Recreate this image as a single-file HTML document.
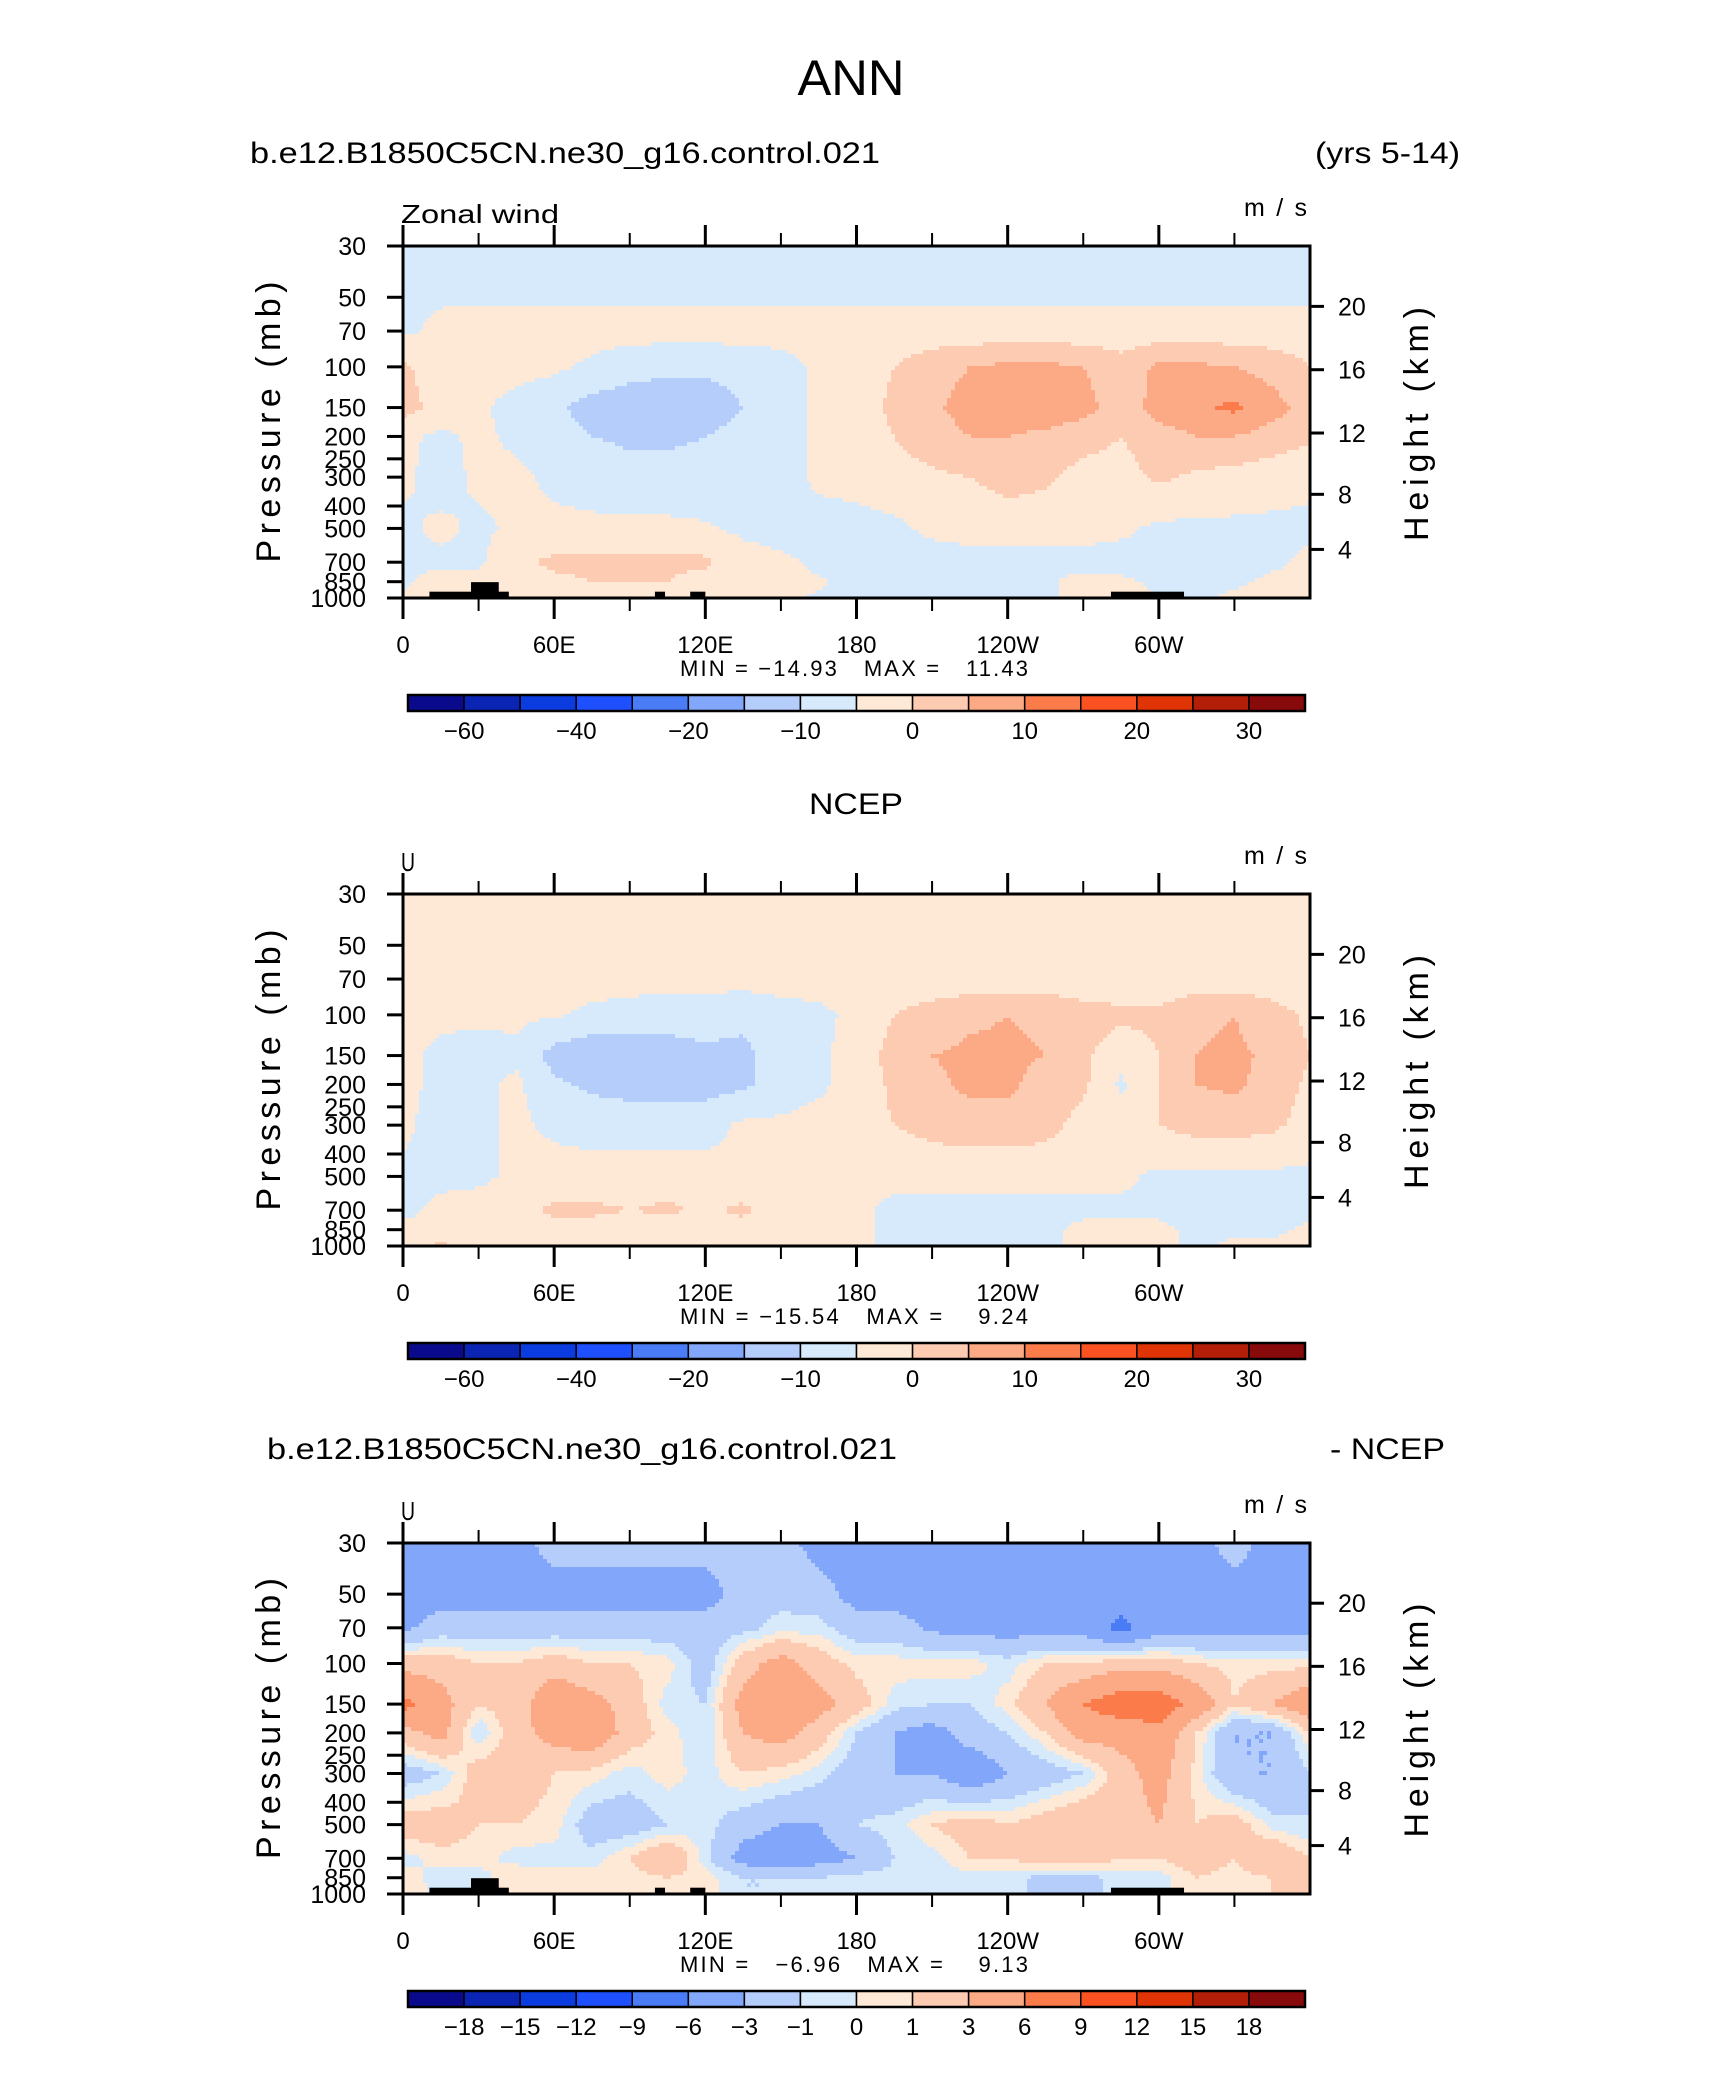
<!DOCTYPE html>
<html><head><meta charset="utf-8">
<style>
html,body{margin:0;padding:0;background:#fff;}
svg{display:block;}
text{font-family:"Liberation Sans",sans-serif;fill:#000;}
</style></head>
<body>
<svg id="fig" width="1710" height="2074" viewBox="0 0 1710 2074" xmlns="http://www.w3.org/2000/svg">
<rect width="1710" height="2074" fill="#fff"/>
<text x="851" y="95" font-size="50" text-anchor="middle" textLength="107" lengthAdjust="spacingAndGlyphs">ANN</text>
<text x="250" y="163" font-size="30" textLength="630" lengthAdjust="spacingAndGlyphs">b.e12.B1850C5CN.ne30_g16.control.021</text>
<text x="1460" y="163" font-size="30" text-anchor="end" textLength="145" lengthAdjust="spacingAndGlyphs">(yrs 5-14)</text>
<text x="856" y="814" font-size="30" text-anchor="middle" textLength="94" lengthAdjust="spacingAndGlyphs">NCEP</text>
<text x="267" y="1459" font-size="30" textLength="630" lengthAdjust="spacingAndGlyphs">b.e12.B1850C5CN.ne30_g16.control.021</text>
<text x="1445" y="1459" font-size="30" text-anchor="end" textLength="115" lengthAdjust="spacingAndGlyphs">- NCEP</text>
<g id="panels"></g>
</svg>
<script>
// ---- shared data ----
const lons = [0,15,30,45,60,75,90,105,120,135,150,165,180,195,210,225,240,255,270,285,300,315,330,345,360];
const levels = [30,50,70,100,150,200,300,500,700,850,1000];
const pressureTicks = [30,50,70,100,150,200,250,300,400,500,700,850,1000];
const heightTicks = [4,8,12,16,20];
const lonTicksMajor = [0,60,120,180,240,300];
const lonTickLabels = ["0","60E","120E","180","120W","60W"];
const lonTicksMinor = [30,90,150,210,270,330];
const colors = ["#0a0a8c","#0a24b4","#0a3ce0","#1e50ff","#4a7cf5","#82a6fa","#b4cdfa","#d7eafb","#fee9d6","#fdcbb2","#fca985","#fc7b4a","#fc5222","#e03404","#b21e08","#880a0a"];
const levelsAbs = [-60,-50,-40,-30,-20,-15,-10,-5,0,5,10,15,20,25,30];
const labelsAbs = ["","−60","","−40","","−20","","−10","","0","","10","","20","","30"];
const levelsDiff = [-18,-15,-12,-9,-6,-3,-1,0,1,3,6,9,12,15,18];
const labelsDiff = ["","−18","−15","−12","−9","−6","−3","−1","0","1","3","6","9","12","15","18"];
// topography blocks: [lonStart, lonEnd, topPressure]
const topo = [[10.5,42,939],[27,38,854],[100,104,939],[114,120,939],[281,310,939]];

// ---- field values (m/s), rows = levels, cols = lons ----
const modelU = [
[-7,-7,-7,-7,-7,-7,-7,-7,-7,-7,-7,-7,-7,-7,-7,-7,-7,-7,-7,-7,-7,-7,-7,-7,-7],
[-5.5,-5.5,-5.5,-5.5,-5.5,-5.5,-5.5,-5.5,-5.5,-5.5,-5.5,-5.5,-5.5,-5.5,-5.5,-5.5,-5.5,-5.5,-5.5,-5.5,-5.5,-5.5,-5.5,-5.5,-5.5],
[-6,-4,-3,-3,-3,-3,-3,-3,-3,-3,-3,-3,-3,-3,-3,-3,-3,-3,-3,-3,-3,-3,-3,-3,-3],
[1,-3,-3,-3,-4,-6,-8,-9,-9,-8,-7,-4,-3,0,3,5,6,6,5,2,6,6,5,3,0],
[2,-2,-4,-7,-9,-12,-13,-13,-13,-10,-7,-4,-2,1,4,7,8,8,7,2,7,9,11,7,3],
[-4,-6,-4,-6,-8,-10,-11,-11,-10,-8,-7,-4,-3,0,3,5,5,4,2,0,3,5,5,3,1],
[-4,-7,-4,-4,-6,-7,-8,-8,-8,-8,-7,-4,-3,-2,-1,0,2,1,-2,-2,1,-1,-2,-3,-4],
[-6,-4,-6,-4,-4,-4,-4,-4,-4.5,-6,-7,-7,-7,-6,-4,-3,-3,-3,-3,-4,-6,-6,-6,-6,-6],
[-6,-6,-6,-1,1,1,1,1,1,-3,-4,-6,-7,-7,-7,-7,-7,-7,-7,-7,-7,-7,-6,-6,-4],
[-6,-3,-3,-2,-1,0,0,0,-2,-3,-4,-4.5,-6,-6,-6,-6,-6,-6,-3,-4,-6,-6,-6,-4,-3],
[-4,0,0,-2,-3,-3,0,-2,-3,-4,-4,-5.5,-6,-6,-6,-6,-6,-6,-3,0,-6,-6,-4,-3,-3]
];
const ncepU = [
[-4,-4,-4,-4,-4,-4,-4,-4,-4,-4,-4,-4,-4,-4,-4,-4,-4,-4,-4,-4,-4,-4,-4,-4,-4],
[-4,-4,-4,-4,-4,-4,-4,-4,-4,-4,-4,-4,-4,-4,-4,-4,-4,-4,-4,-4,-4,-4,-4,-4,-4],
[-3,-3,-3,-3,-3,-3,-3,-3,-3,-3,-3,-3,-3,-3,-3,-3,-3,-3,-3,-3,-3,-3,-3,-3,-3],
[-3,-4,-4,-4,-4.5,-6,-7,-8,-8,-9,-7,-6,-4,0,2,4,5,4,2,1,1,4,5,2,-1],
[-4,-6,-7,-6,-12,-14,-13,-12,-11,-11,-8,-6,-3,2,5,6,6,5,1,-3,0,5,6,4,0],
[-4,-6,-6,-4,-9,-11,-12,-12,-12,-11,-8,-6,-3,1,4,6,6,3,1,-6,0,5,6,3,-1],
[-4,-7,-6,-4,-6,-7,-7,-7,-7,-4,-4,-3,-2,0,2,3,3,2,-2,-2,0,2,2,1,-2],
[-6,-6,-6,-4,-3,-3,-3,-3,-3,-4,-4,-4,-4,-4,-4,-4,-4,-4,-4,-4,-6,-6,-6,-6,-6],
[-6,-4,-3,-2,1,1,0,1,-1,1,-3,-4,-4,-6,-6,-6,-6,-6,-6,-6,-6,-7,-7,-10,-6],
[-4,-4,-3,-3,-2,-2,-3,-3,-3,-2,-4,-4,-4,-6,-6,-6,-6,-6,-4,-3,-4,-6,-6,-6,-4],
[-3,1,-3,-4,-4,-4,-4,-4,-4,-4,-4,-4,-4,-6,-6,-6,-6,-6,-4,-2,-4,-6,-4,-4,-3]
];
const diffU = [
[-4,-4,-4,-4,-2,-2,-2,-2,-2,-2,-2,-4,-4,-4,-4,-4,-4,-4,-4,-4,-4,-4,-2,-4,-4],
[-4,-4,-4,-4,-4,-4,-4,-4,-4,-2,-1.5,-2,-4,-4,-4,-4,-4,-4,-4,-4,-4,-4,-4,-4,-4],
[-3.5,-2,-2,-2,-2,-2,-2,-2,-2,-1.5,-0.5,-0.5,-2,-2,-3.5,-4,-4,-4,-4,-7,-4,-4,-4,-4,-4],
[2,2,1,1,2,1,1,0.5,-2,2,4,2,0.5,0.5,0.5,0.5,-0.5,1,1,2,2,1,0.5,0.5,0.5],
[7,4,1,2,5,4,2,-0.5,-1,4,5,4,2,-0.5,-1,-1,0.5,3,6,8,8,5,1,3,5],
[2,4,-1,2,4,5,2,0.5,-1,3,4,2,-1,-3,-4,-2,-1,1,4,4,5,1,-3,-3,1],
[-2,-1,2,2,1,0.5,-0.5,0.5,-0.5,1,0.5,-0.5,-2,-3,-3,-5,-3,-2,-1,2,4,0.5,-3,-3,-1],
[2,2,1,1,0.5,-2,-2,-1,-0.5,-2,-3,-3,-1,-0.5,1,2,1,2,3,2,3,1,2,-0.5,-1],
[-0.5,0.5,0.5,-0.5,-0.5,-0.5,1,3,-0.5,-4,-5,-4,-3,-1,-0.5,1,1,2,2,1,1,2,1,3,1],
[0.5,-0.5,-0.5,1,0.5,0.5,0.5,1,0.5,-1,-1,-1,-0.5,-0.5,-0.5,-0.5,-0.5,-1.5,-1.5,-0.5,-0.5,1,0.5,1,2],
[1,-0.5,-0.5,1,0.5,0.5,0.5,1,0.5,-1,-1,-1,-0.5,-0.5,-0.5,-0.5,-0.5,-1.5,-1.5,-0.5,-0.5,1,0.5,1,2]
];

const NS = "http://www.w3.org/2000/svg";
const root = document.getElementById('panels');
function mk(tag, attrs, parent){const e=document.createElementNS(NS,tag);for(const k in attrs)e.setAttribute(k,attrs[k]);(parent||root).appendChild(e);return e;}

const X0=403, X1=1310;
function xOf(lon){return X0+(lon/360)*(X1-X0);}
function stdAtmZ(zkm){
  const z=zkm*1000;
  if(z<=11000) return 1013.25*Math.pow(1-2.25577e-5*z,5.25588);
  return 226.32*Math.exp(-(z-11000)/6341.6);
}
function classOf(v, lv){let c=0;while(c<lv.length&&v>=lv[c])c++;return c;}

function drawPanel(cfg){
  const g=mk('g',{});
  
  
  const T=cfg.top,B=cfg.bottom;
  const yOf=p=>T+(Math.log(p/30)/Math.log(1000/30))*(B-T);
  const field=cfg.field;
  const rowsY=levels.map(yOf);
  function val(x,y){
    const lon=(x-X0)/(X1-X0)*360;
    let i=Math.min(lons.length-2,Math.max(0,Math.floor(lon/15)));
    const fx=Math.min(1,Math.max(0,(lon-lons[i])/15));
    let j=0;while(j<rowsY.length-2&&y>rowsY[j+1])j++;
    const fy=Math.min(1,Math.max(0,(y-rowsY[j])/(rowsY[j+1]-rowsY[j])));
    const a=field[j][i],b=field[j][i+1],c=field[j+1][i],d=field[j+1][i+1];
    return a*(1-fx)*(1-fy)+b*fx*(1-fy)+c*(1-fx)*fy+d*fx*fy;
  }
  const fg=mk('g',{},g);
  
  
  const step=4;
  function emit(x0,x1,y,h,c){
    const r=mk('rect',{x:x0,y:y,width:x1-x0+0.6,height:h+0.6,fill:colors[c]},fg);
    
    
  }
  for(let y=T;y<B;y+=step){
    const h=Math.min(step,B-y);
    let runStart=X0,runC=null;
    for(let x=X0;x<X1;x+=step){
      const w=Math.min(step,X1-x);
      const c=classOf(val(x+w/2,y+h/2),cfg.lv);
      if(c!==runC){
        if(runC!==null) emit(runStart,x,y,h,runC);
        runStart=x;runC=c;
      }
    }
    emit(runStart,X1,y,h,runC);
  }
  if(cfg.topo){
    topo.forEach(t=>{
      const r=mk('rect',{x:xOf(t[0]),y:yOf(t[2]),width:xOf(t[1])-xOf(t[0]),height:B-yOf(t[2]),fill:'#000'},g);
      
      
    });
  }
  const fr=mk('rect',{x:X0,y:T,width:X1-X0,height:B-T,fill:'none',stroke:'#000','stroke-width':3},g);
  
  
  lonTicksMajor.forEach((l,k)=>{
    mk('line',{x1:xOf(l),x2:xOf(l),y1:B,y2:B+21,stroke:'#000','stroke-width':3},g);
    mk('line',{x1:xOf(l),x2:xOf(l),y1:T,y2:T-21,stroke:'#000','stroke-width':3},g);
    const t=mk('text',{x:xOf(l),y:B+55,'font-size':24,'text-anchor':'middle'},g);
    t.textContent=lonTickLabels[k];
    
    
  });
  lonTicksMinor.forEach(l=>{
    mk('line',{x1:xOf(l),x2:xOf(l),y1:B,y2:B+13,stroke:'#000','stroke-width':2},g);
    mk('line',{x1:xOf(l),x2:xOf(l),y1:T,y2:T-13,stroke:'#000','stroke-width':2},g);
  });
  pressureTicks.forEach(p=>{
    mk('line',{x1:X0,x2:X0-16,y1:yOf(p),y2:yOf(p),stroke:'#000','stroke-width':3},g);
    const t=mk('text',{x:366,y:yOf(p)+9,'font-size':25,'text-anchor':'end'},g);
    t.textContent=String(p);
    
    
  });
  heightTicks.forEach(z=>{
    const y=yOf(stdAtmZ(z));
    mk('line',{x1:X1,x2:X1+14,y1:y,y2:y,stroke:'#000','stroke-width':3},g);
    const t=mk('text',{x:1338,y:y+9,'font-size':25},g);
    t.textContent=String(z);
    
    
  });
  const cy=(T+B)/2;
  let t=mk('text',{x:0,y:0,'font-size':34,'text-anchor':'middle',transform:`translate(280,${cy}) rotate(-90)`,textLength:281,lengthAdjust:'spacing'},g);
  t.textContent='Pressure (mb)';
  
  
  t=mk('text',{x:0,y:0,'font-size':34,'text-anchor':'middle',transform:`translate(1428,${cy+2}) rotate(-90)`,textLength:234,lengthAdjust:'spacing'},g);
  t.textContent='Height (km)';
  
  
  t=mk('text',{x:401,y:T-23,'font-size':26,textLength:cfg.var.length>1?158:14,lengthAdjust:'spacingAndGlyphs'},g);
  t.textContent=cfg.var;
  
  
  t=mk('text',{x:1244,y:T-30,'font-size':25,textLength:63,lengthAdjust:'spacing'},g);
  t.textContent='m/s';
  
  
  t=mk('text',{x:680,y:B+78,'font-size':22,textLength:348,lengthAdjust:'spacing',style:'white-space:pre'},g);
  t.textContent=cfg.minmax;
  
  
  const cb=mk('g',{},g);
  
  
  const cx0=408,cx1=1305,cw=(cx1-cx0)/colors.length,cyT=B+97,ch=16;
  colors.forEach((c,k)=>{
    const r=mk('rect',{x:cx0+k*cw,y:cyT,width:cw,height:ch,fill:c,stroke:'#000','stroke-width':1.5},cb);
    
    
    const lab=cfg.labels[k];
    if(lab){
      const tt=mk('text',{x:cx0+k*cw,y:cyT+ch+28,'font-size':24,'text-anchor':'middle'},cb);
      tt.textContent=lab;
      
      
    }
  });
  mk('rect',{x:cx0,y:cyT,width:cx1-cx0,height:ch,fill:'none',stroke:'#000','stroke-width':2.5},cb);
}

drawPanel({name:'model-panel',top:246,bottom:598,field:modelU,lv:levelsAbs,labels:labelsAbs,topo:true,var:'Zonal wind',minmax:'MIN = −14.93   MAX =   11.43'});
drawPanel({name:'ncep-panel',top:894,bottom:1246,field:ncepU,lv:levelsAbs,labels:labelsAbs,topo:false,var:'U',minmax:'MIN = −15.54   MAX =    9.24'});
drawPanel({name:'diff-panel',top:1543,bottom:1894,field:diffU,lv:levelsDiff,labels:labelsDiff,topo:true,var:'U',minmax:'MIN =   −6.96   MAX =    9.13'});
</script>
</body></html>
